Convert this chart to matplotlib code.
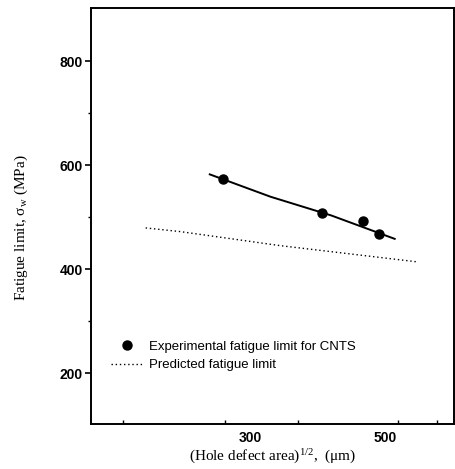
import numpy as np
import matplotlib
matplotlib.use("Agg")
import matplotlib.pyplot as plt
from matplotlib.lines import Line2D

exp_x = [260, 406, 467, 490]
exp_y = [573, 507, 493, 467]

# fitted curve through experiments
fit_x = [240, 330, 420, 514]
fit_y = [582, 539, 503, 458]

# predicted fatigue limit
pred_x = [145, 196, 344, 546]
pred_y = [479, 472, 445, 414]

xlabels = [300, 500]
xminor = [112, 263, 370, 519, 576]
yticks = [200, 400, 600, 800]
yminor = [300, 500, 700]

plt.rcParams["mathtext.fontset"] = "custom"
plt.rcParams["mathtext.rm"] = "Liberation Serif"

fig = plt.figure(figsize=(4.55, 4.69), dpi=100)
ax = fig.add_axes([0.2, 0.096, 0.798, 0.887])

ax.plot(fit_x, fit_y, color="black", lw=1.4)
ax.plot(exp_x, exp_y, "o", color="black", ms=6.5, ls="none")
ax.plot(pred_x, pred_y, color="black", lw=1.0, ls=(0, (1, 2)))

ax.set_xlim(64, 602)
ax.set_ylim(102, 902)

ax.set_xticks(xlabels)
ax.set_xticks(xminor, minor=True)
ax.tick_params(axis="x", which="major", length=0, pad=5)
ax.tick_params(axis="x", which="minor", direction="in", length=3, width=1)
ax.set_yticks(yticks)
ax.set_yticks(yminor, minor=True)
ax.tick_params(axis="y", which="major", direction="out", length=4, width=1.2, pad=2)
ax.tick_params(axis="y", which="minor", direction="out", length=2, width=1)
for lab in ax.get_xticklabels() + ax.get_yticklabels():
    lab.set_fontfamily("Liberation Sans")
    lab.set_fontsize(10)
    lab.set_fontweight("bold")

for sp in ax.spines.values():
    sp.set_linewidth(1.4)

ax.set_xlabel(r"(Hole defect area)$\mathregular{^{1/2}}$,  (μm)",
              family="Liberation Serif", fontsize=11, labelpad=2)
ax.set_ylabel(r"Fatigue limit, σ$\mathregular{_w}$ (MPa)",
              family="Liberation Serif", fontsize=11)
ax.yaxis.set_label_coords(-0.168, 0.471)

handles = [
    Line2D([], [], marker="o", color="black", ls="none", ms=6.5),
    Line2D([], [], color="black", lw=1.0, ls=(0, (1, 2))),
]
ax.legend(handles, ["Experimental fatigue limit for CNTS", "Predicted fatigue limit"],
          loc="upper left", bbox_to_anchor=(0.056, 0.200), frameon=False,
          prop={"family": "Liberation Sans", "size": 9.5},
          handlelength=2.4, handletextpad=0.45, labelspacing=0.45, borderpad=0,
          borderaxespad=0)

fig.savefig("out.png", dpi=100)
